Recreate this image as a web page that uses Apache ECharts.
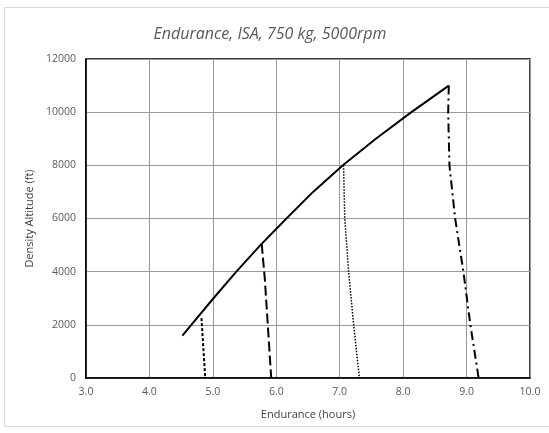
<!DOCTYPE html>
<html>
<head>
<meta charset="utf-8">
<script src="https://cdn.jsdelivr.net/npm/echarts@6/dist/echarts.min.js"></script>
<style>html,body{margin:0;padding:0;background:#fff}#c{width:549px;height:433px}</style>
</head>
<body>
<div id="c"></div>
<script>
var chartTitle = 'Endurance, ISA, 750 kg, 5000rpm';
var xAxisName = 'Endurance (hours)';
var yAxisName = 'Density Altitude (ft)';
var mainCurve = [[4.52,1590],[4.66,2000],[5.01,3000],[5.37,4000],[5.75,5000],[6.16,6000],[6.58,7000],[7.05,8000],[7.57,9000],[8.13,10000],[8.72,11000]];
var fuelLine1 = [[4.82,2250],[4.88,0]];
var fuelLine2 = [[5.77,5050],[5.82,3700],[5.92,0]];
var fuelLine3 = [[7.06,8000],[7.08,6000],[7.14,4000],[7.22,2000],[7.31,0]];
var fuelLine4 = [[8.72,11000],[8.71,10000],[8.73,8000],[8.82,6000],[8.95,4000],[9.06,2000],[9.19,0]];

var chart = echarts.init(document.getElementById('c'), null, {renderer:'canvas'});
var ff = 'Open Sans, Liberation Sans, sans-serif';
function ls(type, w){ return {color:'#000', width:w, type:type}; }
chart.setOption({
  animation:false,
  backgroundColor:'#fff',
  graphic:[{type:'rect', shape:{x:4.5,y:7.5,width:560,height:419}, style:{fill:'none', stroke:'#d9d9d9', lineWidth:1}, silent:true}],
  title:{text:chartTitle, left:265, top:21, textAlign:'center',
    textStyle:{fontFamily:ff, fontSize:16, fontStyle:'italic', fontWeight:'normal', color:'#595959'}},
  grid:{left:86, right:19, top:59, bottom:55, show:true, borderColor:'#000', borderWidth:1.5, containLabel:false},
  xAxis:{type:'value', min:3, max:10, interval:1, name:xAxisName, nameLocation:'middle', nameGap:31,
    nameTextStyle:{fontFamily:ff, fontSize:11, color:'#404040'},
    axisLine:{show:true, lineStyle:{color:'#000', width:1.5}}, axisTick:{show:false},
    axisLabel:{fontFamily:ff, fontSize:10.5, color:'#595959', margin:9, formatter:function(v){return v.toFixed(1);}},
    splitLine:{show:true, lineStyle:{color:'#999', width:1}}},
  yAxis:{type:'value', min:0, max:12000, interval:2000, name:yAxisName, nameLocation:'middle', nameGap:51,
    nameTextStyle:{fontFamily:ff, fontSize:11, color:'#404040'},
    axisLine:{show:true, lineStyle:{color:'#000', width:1.5}}, axisTick:{show:false},
    axisLabel:{fontFamily:ff, fontSize:10.5, color:'#595959', margin:10, formatter:function(v){return String(v);}},
    splitLine:{show:true, lineStyle:{color:'#999', width:1}}},
  series:[
    {type:'line', data:mainCurve, smooth:false, symbol:'none', lineStyle:ls('solid',2), z:5},
    {type:'line', data:fuelLine1, symbol:'none', lineStyle:ls([3,2],2)},
    {type:'line', data:fuelLine2, symbol:'none', lineStyle:ls([10,4],2)},
    {type:'line', data:fuelLine3, symbol:'none', lineStyle:ls([1.5,1.5],1.5)},
    {type:'line', data:fuelLine4, symbol:'none', lineStyle:ls([9,4,2,4],2)}
  ]
});
</script>
</body>
</html>
